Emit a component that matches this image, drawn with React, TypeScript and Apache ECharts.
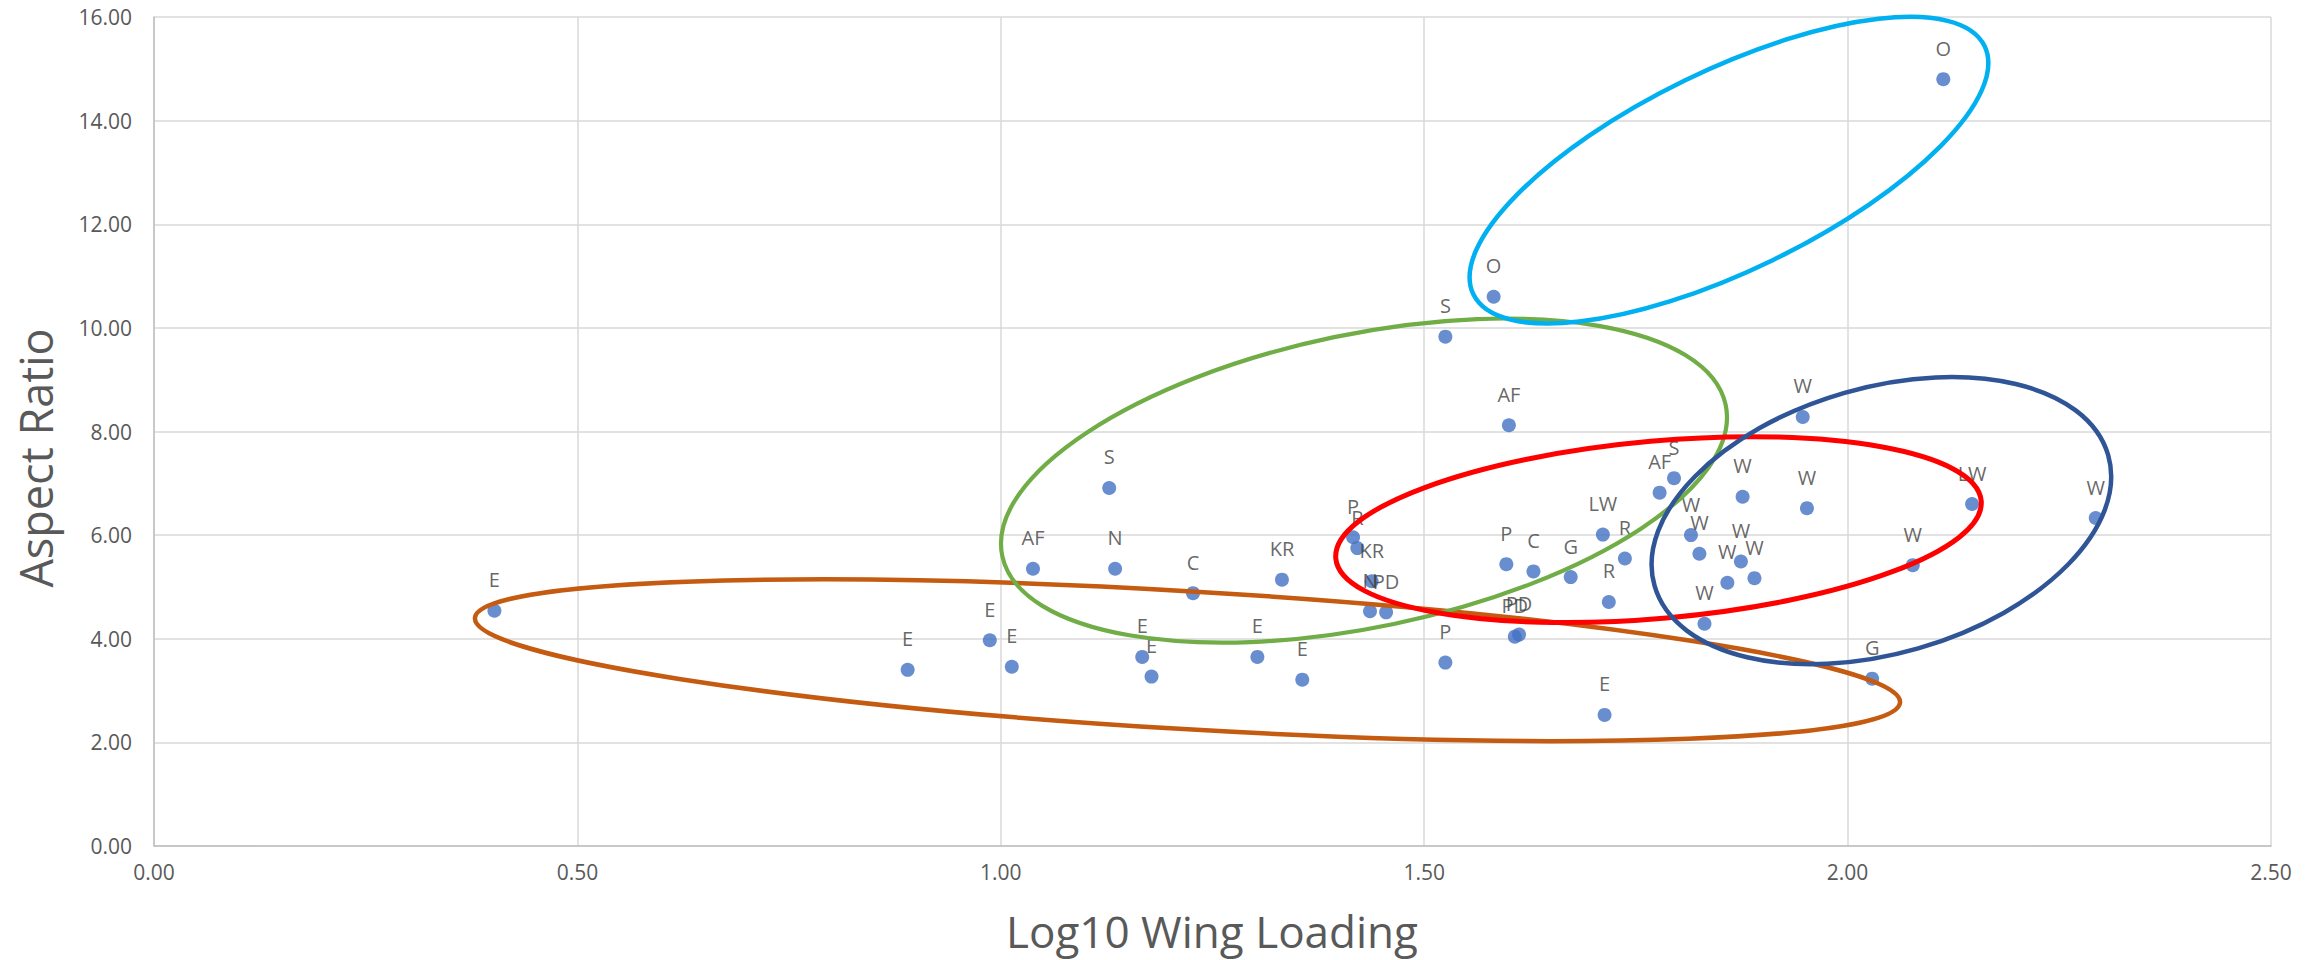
import React, { useEffect, useRef } from "react";
import * as echarts from "echarts";

// ---- data ----
const pointLabels = [
  "E", "E", "E", "E", "AF", "S", "N", "C", "E", "E",
  "E", "E", "KR", "P", "R", "KR", "N", "PD", "S", "O",
  "AF", "P", "P", "C", "PD", "PD", "G", "LW", "R", "R",
  "E", "AF", "S", "W", "W", "W", "W", "W", "W", "W",
  "W", "W", "LW", "W", "W", "G", "O",
];
const wingLoading = [
  0.402, 0.890, 0.987, 1.013, 1.038, 1.128, 1.135, 1.227, 1.167, 1.178,
  1.303, 1.356, 1.332, 1.416, 1.421, 1.438, 1.436, 1.455, 1.525, 1.582,
  1.600, 1.525, 1.597, 1.629, 1.607, 1.612, 1.673, 1.711, 1.737, 1.718,
  1.713, 1.778, 1.795, 1.815, 1.825, 1.876, 1.874, 1.858, 1.890, 1.831,
  1.947, 1.952, 2.147, 2.077, 2.293, 2.029, 2.113,
];
const aspectRatio = [
  4.54, 3.40, 3.97, 3.46, 5.35, 6.91, 5.35, 4.88, 3.65, 3.27,
  3.65, 3.21, 5.14, 5.96, 5.75, 5.11, 4.53, 4.51, 9.83, 10.60,
  8.12, 3.54, 5.44, 5.30, 4.04, 4.08, 5.19, 6.01, 5.55, 4.71,
  2.53, 6.82, 7.10, 6.00, 5.64, 6.74, 5.49, 5.08, 5.17, 4.29,
  8.28, 6.52, 6.60, 5.42, 6.33, 3.23, 14.80,
];

const xTickLabels = ["0.00", "0.50", "1.00", "1.50", "2.00", "2.50"];
const yTickLabels = ["0.00", "2.00", "4.00", "6.00", "8.00", "10.00", "12.00", "14.00", "16.00"];

// grouping ellipses: centres in data units
const groupCenterX = [1.2205, 1.4289, 1.7767, 2.0399, 1.8599];
const groupCenterY = [3.585, 7.053, 6.106, 6.28, 13.043];

// ellipse drawing styles (pixel sizes, rotation in degrees counter-clockwise)
const ellipseStyles = [
  { rx: 714, ry: 69, rotate: -3.41, color: "#C55A11", width: 4.5 },
  { rx: 369.5, ry: 146.5, rotate: 11.75, color: "#70AD47", width: 4.2 },
  { rx: 324, ry: 88.7, rotate: 5.12, color: "#FF0000", width: 5 },
  { rx: 236, ry: 133, rotate: 16.1, color: "#2F5597", width: 4.5 },
  { rx: 284, ry: 100, rotate: 25.9, color: "#00B0F0", width: 4.5 },
];

export default function App() {
  const ref = useRef<HTMLDivElement>(null);

  useEffect(() => {
    document.body.style.margin = "0";
    const chart = echarts.init(ref.current!, null, { renderer: "svg" });

    const points = wingLoading.map((x, i) => [x, aspectRatio[i], pointLabels[i]]);
    const groups = groupCenterX.map((x, i) => [x, groupCenterY[i], i]);

    chart.setOption({
      animation: false,
      backgroundColor: "#ffffff",
      grid: { left: 154, right: 47, top: 17, bottom: 114, containLabel: false },
      xAxis: {
        type: "value",
        min: 0,
        max: 2.5,
        interval: 0.5,
        axisLine: { show: true, onZero: false, lineStyle: { color: "#BFBFBF", width: 1.5 } },
        axisTick: { show: false },
        splitLine: { show: true, lineStyle: { color: "#D9D9D9", width: 1.5 } },
        axisLabel: {
          margin: 15,
          color: "#595959",
          fontSize: 21,
          fontFamily: "Open Sans",
          formatter: (v: number) => xTickLabels[Math.round(v / 0.5)] ?? "",
        },
      },
      yAxis: {
        type: "value",
        min: 0,
        max: 16,
        interval: 2,
        axisLine: { show: true, lineStyle: { color: "#BFBFBF", width: 1.5 } },
        axisTick: { show: false },
        splitLine: { show: true, lineStyle: { color: "#D9D9D9", width: 1.5 } },
        axisLabel: {
          margin: 22,
          color: "#595959",
          fontSize: 21,
          fontFamily: "Open Sans",
          formatter: (v: number) => yTickLabels[Math.round(v / 2)] ?? "",
        },
      },
      graphic: [
        {
          type: "text",
          x: 1212,
          y: 931,
          silent: true,
          style: {
            text: "Log10 Wing Loading",
            fontSize: 44,
            fontFamily: "Open Sans",
            fill: "#595959",
            textAlign: "center",
            textVerticalAlign: "middle",
            align: "center",
            verticalAlign: "middle",
          },
        },
        {
          type: "text",
          x: 35,
          y: 458,
          rotation: Math.PI / 2,
          silent: true,
          style: {
            text: "Aspect Ratio",
            fontSize: 45,
            fontFamily: "Open Sans",
            fill: "#595959",
            textAlign: "center",
            textVerticalAlign: "middle",
            align: "center",
            verticalAlign: "middle",
          },
        },
      ],
      series: [
        {
          type: "scatter",
          z: 2,
          data: points,
          encode: { x: 0, y: 1 },
          symbol: "circle",
          symbolSize: 14,
          itemStyle: { color: "#4472C4" },
          emphasis: { disabled: true },
          label: {
            show: true,
            position: "top",
            distance: 14,
            formatter: (p: any) => p.data[2],
            color: "#404040",
            fontSize: 20,
            fontFamily: "Open Sans",
          },
        },
        {
          type: "custom",
          z: 5,
          silent: true,
          data: groups,
          encode: { x: 0, y: 1 },
          renderItem: (_params: any, api: any) => {
            const idx = api.value(2);
            const s = ellipseStyles[idx];
            const c = api.coord([api.value(0), api.value(1)]);
            return {
              type: "ellipse",
              x: c[0],
              y: c[1],
              rotation: (s.rotate * Math.PI) / 180,
              shape: { cx: 0, cy: 0, rx: s.rx, ry: s.ry },
              style: { fill: "none", stroke: s.color, lineWidth: s.width },
            };
          },
        },
      ],
    });

    return () => chart.dispose();
  }, []);

  return <div ref={ref} style={{ width: 2318, height: 960 }} />;
}
